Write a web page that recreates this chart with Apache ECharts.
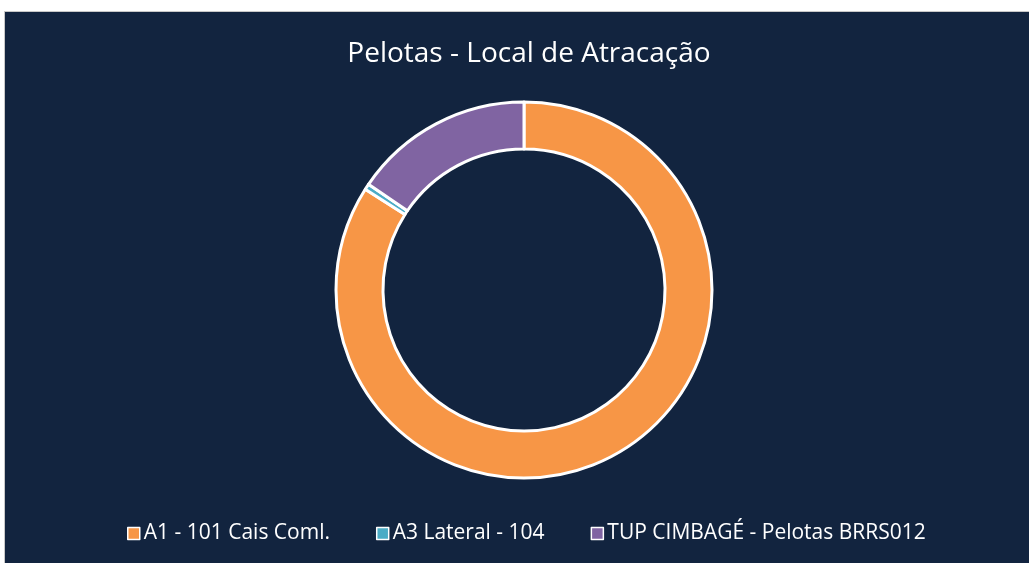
<!DOCTYPE html>
<html>
<head>
<meta charset="utf-8">
<script src="https://cdn.jsdelivr.net/npm/echarts@6/dist/echarts.min.js"></script>
<style>
  html, body { margin: 0; padding: 0; background: #fff; }
  .panel {
    position: absolute;
    left: 4px;
    top: 11px;
    width: 1025px;
    height: 552px;
    background: #12243f;
    border-left: 1px solid #c8c8c8;
    border-top: 1px solid #c8c8c8;
    box-sizing: border-box;
  }
  #chart { position: absolute; left: 0; top: 0; width: 1029px; height: 563px; }
</style>
</head>
<body>
<div class="panel"></div>
<div id="chart"></div>
<script>
const categories = ['A1 - 101 Cais Coml.', 'A3 Lateral - 104', 'TUP CIMBAGÉ - Pelotas BRRS012']
const values = [168, 1, 31]
const colors = ['#f79646', '#4bacc6', '#8064a2']

const chart = echarts.init(document.getElementById('chart'))

const option = {
  backgroundColor: 'transparent',
  title: {
    text: 'Pelotas - Local de Atracação',
    left: 524,
    textAlign: 'center',
    top: 35,
    textStyle: {
      color: '#ffffff',
      fontFamily: 'Open Sans',
      fontWeight: 'normal',
      fontSize: 28
    }
  },
  legend: {
    bottom: 14,
    left: 122,
    itemWidth: 12,
    itemHeight: 12,
    itemGap: 46,
    icon: 'rect',
    textStyle: {
      color: '#ffffff',
      fontFamily: 'Open Sans',
      fontSize: 21,
      padding: [0, 0, 0, -1]
    },
    data: categories.map(function (c, i) {
      return {
        name: c,
        itemStyle: { color: colors[i], borderColor: '#ffffff', borderWidth: 1.5 }
      }
    })
  },
  series: [
    {
      type: 'pie',
      center: [524, 290],
      radius: [141, 188],
      startAngle: 90,
      clockwise: true,
      label: { show: false },
      labelLine: { show: false },
      emphasis: { disabled: true },
      itemStyle: {
        borderColor: '#ffffff',
        borderWidth: 3
      },
      data: categories.map(function (c, i) {
        return { name: c, value: values[i], itemStyle: { color: colors[i] } }
      })
    }
  ]
}

chart.setOption(option)
</script>
</body>
</html>
